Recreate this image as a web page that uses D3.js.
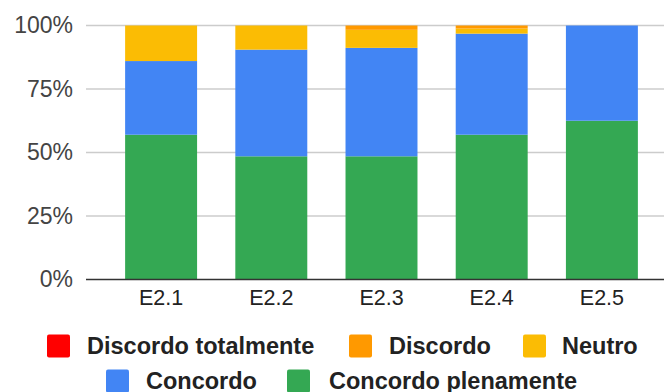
<!DOCTYPE html>
<html>
<head>
<meta charset="utf-8">
<script src="https://cdn.jsdelivr.net/npm/d3@7"></script>
<style>
  body { margin: 0; background: #fff; }
  text { font-family: "Liberation Sans", Arial, sans-serif; }
</style>
</head>
<body>
<div id="vis1"></div>
<script>
// data (percent of answers)
const categories = ["E2.1", "E2.2", "E2.3", "E2.4", "E2.5"];
const seriesNames = ["Concordo plenamente", "Concordo", "Neutro", "Discordo", "Discordo totalmente"];
const concordoPlenamente = [57, 48.5, 48.5, 57, 62.5];
const concordo = [29, 42, 42.7, 39.8, 37.5];
const neutro = [14, 9.5, 7.1, 2, 0];
const discordo = [0, 0, 1.7, 1.2, 0];
const discordoTotalmente = [0, 0, 0, 0, 0];
const yTicks = [0, 0.25, 0.5, 0.75, 1];

const colors = {
  "Discordo totalmente": "#ff0000",
  "Discordo": "#ff9900",
  "Neutro": "#fbbc04",
  "Concordo": "#4285f4",
  "Concordo plenamente": "#34a853"
};

const width = 664, height = 392;

const svg = d3.select("#vis1")
  .append("svg")
    .attr("width", width)
    .attr("height", height);

// build table for the stack
const table = categories.map((c, i) => ({
  cat: c,
  "Concordo plenamente": concordoPlenamente[i],
  "Concordo": concordo[i],
  "Neutro": neutro[i],
  "Discordo": discordo[i],
  "Discordo totalmente": discordoTotalmente[i]
}));

const stack = d3.stack()
  .keys(seriesNames)
  .offset(d3.stackOffsetExpand);
const layers = stack(table);

// scales
const x = d3.scaleBand()
  .domain(categories)
  .range([106, 657])
  .paddingInner(0.347)
  .paddingOuter(0.1735);

const y = d3.scaleLinear()
  .domain([0, 1])
  .range([279.5, 25.5]);

// gridlines + y labels
const yAxis = svg.append("g")
  .attr("transform", "translate(86,0)")
  .call(d3.axisLeft(y).tickValues(yTicks).tickFormat(d3.format(".0%")).tickSize(0).tickPadding(13));
yAxis.select(".domain").remove();
yAxis.selectAll("text")
  .style("font-size", "23px")
  .attr("fill", "#444");

svg.append("g")
  .selectAll("line")
  .data(yTicks.filter(d => d > 0))
  .join("line")
    .attr("x1", 86)
    .attr("x2", 664)
    .attr("y1", d => y(d))
    .attr("y2", d => y(d))
    .attr("stroke", "#cccccc")
    .attr("stroke-width", 1.5);

// bars
svg.append("g")
  .selectAll("g")
  .data(layers)
  .join("g")
    .attr("fill", d => colors[d.key])
  .selectAll("rect")
  .data(d => d)
  .join("rect")
    .attr("x", d => x(d.data.cat))
    .attr("y", d => y(d[1]))
    .attr("width", x.bandwidth())
    .attr("height", d => y(d[0]) - y(d[1]));

// baseline
svg.append("line")
  .attr("x1", 86)
  .attr("x2", 664)
  .attr("y1", y(0))
  .attr("y2", y(0))
  .attr("stroke", "#333")
  .attr("stroke-width", 1.5);

// x labels
const xAxis = svg.append("g")
  .attr("transform", `translate(0,${y(0)})`)
  .call(d3.axisBottom(x).tickSize(0).tickPadding(10));
xAxis.select(".domain").remove();
xAxis.selectAll("text")
  .style("font-size", "21.5px")
  .attr("fill", "#222");

// legend, two rows
const legendRows = [
  [{ key: "Discordo totalmente", sq: 47, tx: 87 }, { key: "Discordo", sq: 349, tx: 389 }, { key: "Neutro", sq: 523, tx: 562 }],
  [{ key: "Concordo", sq: 106, tx: 146 }, { key: "Concordo plenamente", sq: 287, tx: 329 }]
];
const rowY = [346, 381];

legendRows.forEach((row, r) => {
  const g = svg.append("g");
  g.selectAll("rect")
    .data(row)
    .join("rect")
      .attr("x", d => d.sq)
      .attr("y", rowY[r] - 11.5)
      .attr("width", 23)
      .attr("height", 23)
      .attr("rx", 2)
      .attr("fill", d => colors[d.key]);
  g.selectAll("text")
    .data(row)
    .join("text")
      .attr("x", d => d.tx)
      .attr("y", rowY[r])
      .attr("dy", "0.35em")
      .style("font-size", "23.5px")
      .style("font-weight", "bold")
      .attr("fill", "#222")
      .text(d => d.key);
});
</script>
</body>
</html>
